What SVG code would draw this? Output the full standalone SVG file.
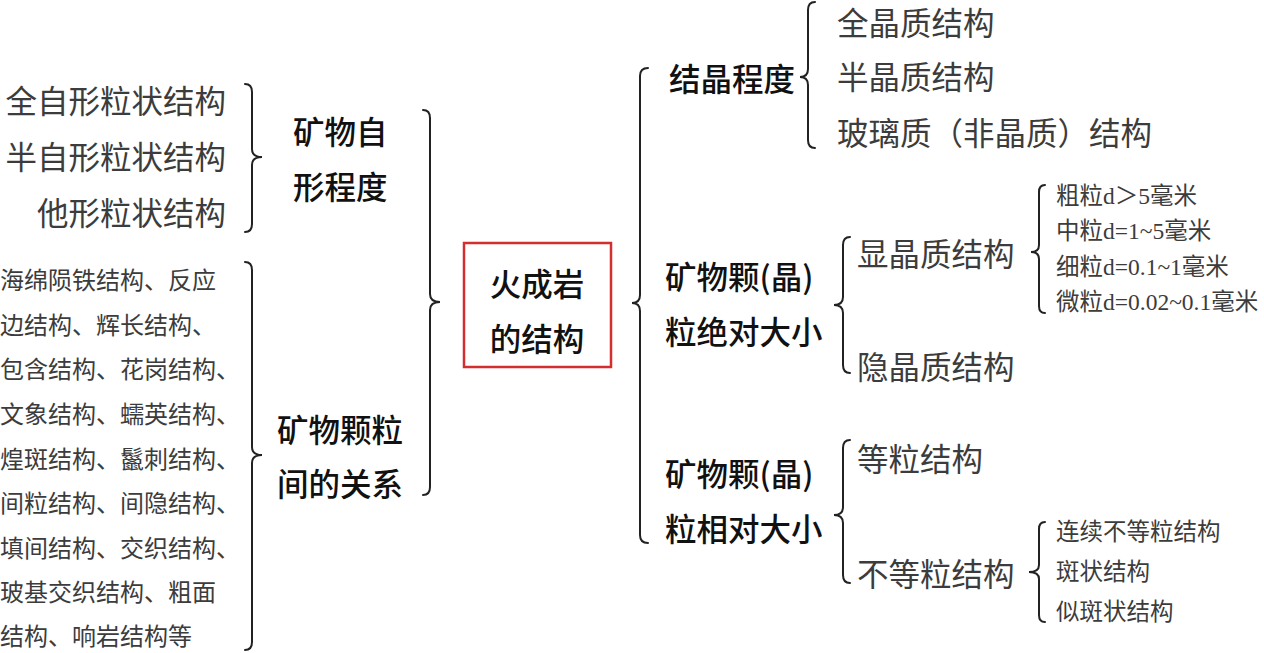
<svg xmlns="http://www.w3.org/2000/svg" width="1264" height="653" viewBox="0 0 1264 653">
<style>
text{font-family:"Noto Sans CJK SC","Noto Sans",sans-serif;dominant-baseline:central}
.h{font-size:31.5px;fill:#111;font-weight:500}
.l{font-size:31.5px;fill:#3c3c3c}
.m{font-size:24px;fill:#3c3c3c}
.s{font-size:23.5px;fill:#3c3c3c;font-family:"Liberation Serif","Noto Sans CJK SC",serif}
.br{fill:none;stroke:#222;stroke-width:2;stroke-linecap:round}
.box{fill:#fff;stroke:#d32f2f;stroke-width:2.5}
</style>
<rect width="1264" height="653" fill="#fff"/>
<g id="connectors">
<path class="br" d="M245,84 Q252,84 252,92 L252,149 Q252,157 262,157 Q252,157 252,165 L252,224 Q252,232 245,232"/>
<path class="br" d="M423,110 Q430,110 430,118 L430,294 Q430,302 440,302 Q430,302 430,310 L430,487 Q430,495 423,495"/>
<path class="br" d="M245,262 Q252,262 252,270 L252,447 Q252,455 262,455 Q252,455 252,463 L252,642 Q252,650 245,650"/>
<path class="br" d="M648,68 Q640,68 640,76 L640,295 Q640,303 632,303 Q640,303 640,311 L640,535 Q640,543 648,543"/>
<path class="br" d="M815,2 Q808,2 808,10 L808,69 Q808,77 800,77 Q808,77 808,85 L808,140 Q808,148 815,148"/>
<path class="br" d="M850,237 Q843,237 843,245 L843,297 Q843,305 834,305 Q843,305 843,313 L843,365 Q843,373 850,373"/>
<path class="br" d="M1045,185 Q1039,185 1039,192 L1039,245 Q1039,252 1031,252 Q1039,252 1039,259 L1039,306 Q1039,313 1045,313"/>
<path class="br" d="M850,440 Q843,440 843,448 L843,507 Q843,515 834,515 Q843,515 843,523 L843,575 Q843,583 850,583"/>
<path class="br" d="M1045,522 Q1039,522 1039,529 L1039,565 Q1039,572 1029,572 Q1039,572 1039,579 L1039,615 Q1039,622 1045,622"/>
</g>
<g id="n-root">
<rect class="box" x="464" y="243" width="147" height="124"/>
<text class="h" x="537" y="282" text-anchor="middle">火成岩</text>
<text class="h" x="537" y="337" text-anchor="middle">的结构</text>
</g>
<g id="n-zixing">
<text class="h" x="293" y="130">矿物自</text>
<text class="h" x="293" y="185">形程度</text>
</g>
<g id="n-zixing-items">
<text class="l" x="226" y="99" text-anchor="end">全自形粒状结构</text>
<text class="l" x="226" y="155" text-anchor="end">半自形粒状结构</text>
<text class="l" x="226" y="211" text-anchor="end">他形粒状结构</text>
</g>
<g id="n-guanxi">
<text class="h" x="277" y="428">矿物颗粒</text>
<text class="h" x="277" y="482">间的关系</text>
</g>
<g id="n-guanxi-items">
<text class="m" x="0" y="278">海绵陨铁结构、反应</text>
<text class="m" x="0" y="323">边结构、辉长结构、</text>
<text class="m" x="0" y="367">包含结构、花岗结构、</text>
<text class="m" x="0" y="412">文象结构、蠕英结构、</text>
<text class="m" x="0" y="457">煌斑结构、鬣刺结构、</text>
<text class="m" x="0" y="501">间粒结构、间隐结构、</text>
<text class="m" x="0" y="546">填间结构、交织结构、</text>
<text class="m" x="0" y="590">玻基交织结构、粗面</text>
<text class="m" x="0" y="634">结构、响岩结构等</text>
</g>
<g id="n-jiejing">
<text class="h" x="669" y="77">结晶程度</text>
</g>
<g id="n-jiejing-items">
<text class="l" x="837" y="21">全晶质结构</text>
<text class="l" x="837" y="75">半晶质结构</text>
<text class="l" x="837" y="131">玻璃质（非晶质）结构</text>
</g>
<g id="n-juedui">
<text class="h" x="665" y="275">矿物颗(晶)</text>
<text class="h" x="665" y="330">粒绝对大小</text>
</g>
<g id="n-xianjing">
<text class="l" x="857" y="252">显晶质结构</text>
</g>
<g id="n-xianjing-items">
<text class="s" x="1056" y="196">粗粒d＞5毫米</text>
<text class="s" x="1056" y="231">中粒d=1~5毫米</text>
<text class="s" x="1056" y="267">细粒d=0.1~1毫米</text>
<text class="s" x="1056" y="302">微粒d=0.02~0.1毫米</text>
</g>
<g id="n-yinjing">
<text class="l" x="857" y="365">隐晶质结构</text>
</g>
<g id="n-xiangdui">
<text class="h" x="665" y="472">矿物颗(晶)</text>
<text class="h" x="665" y="527">粒相对大小</text>
</g>
<g id="n-dengli">
<text class="l" x="857" y="457">等粒结构</text>
</g>
<g id="n-budengli">
<text class="l" x="857" y="572">不等粒结构</text>
</g>
<g id="n-budengli-items">
<text class="s" x="1056" y="532">连续不等粒结构</text>
<text class="s" x="1056" y="572">斑状结构</text>
<text class="s" x="1056" y="612">似斑状结构</text>
</g>
</svg>
